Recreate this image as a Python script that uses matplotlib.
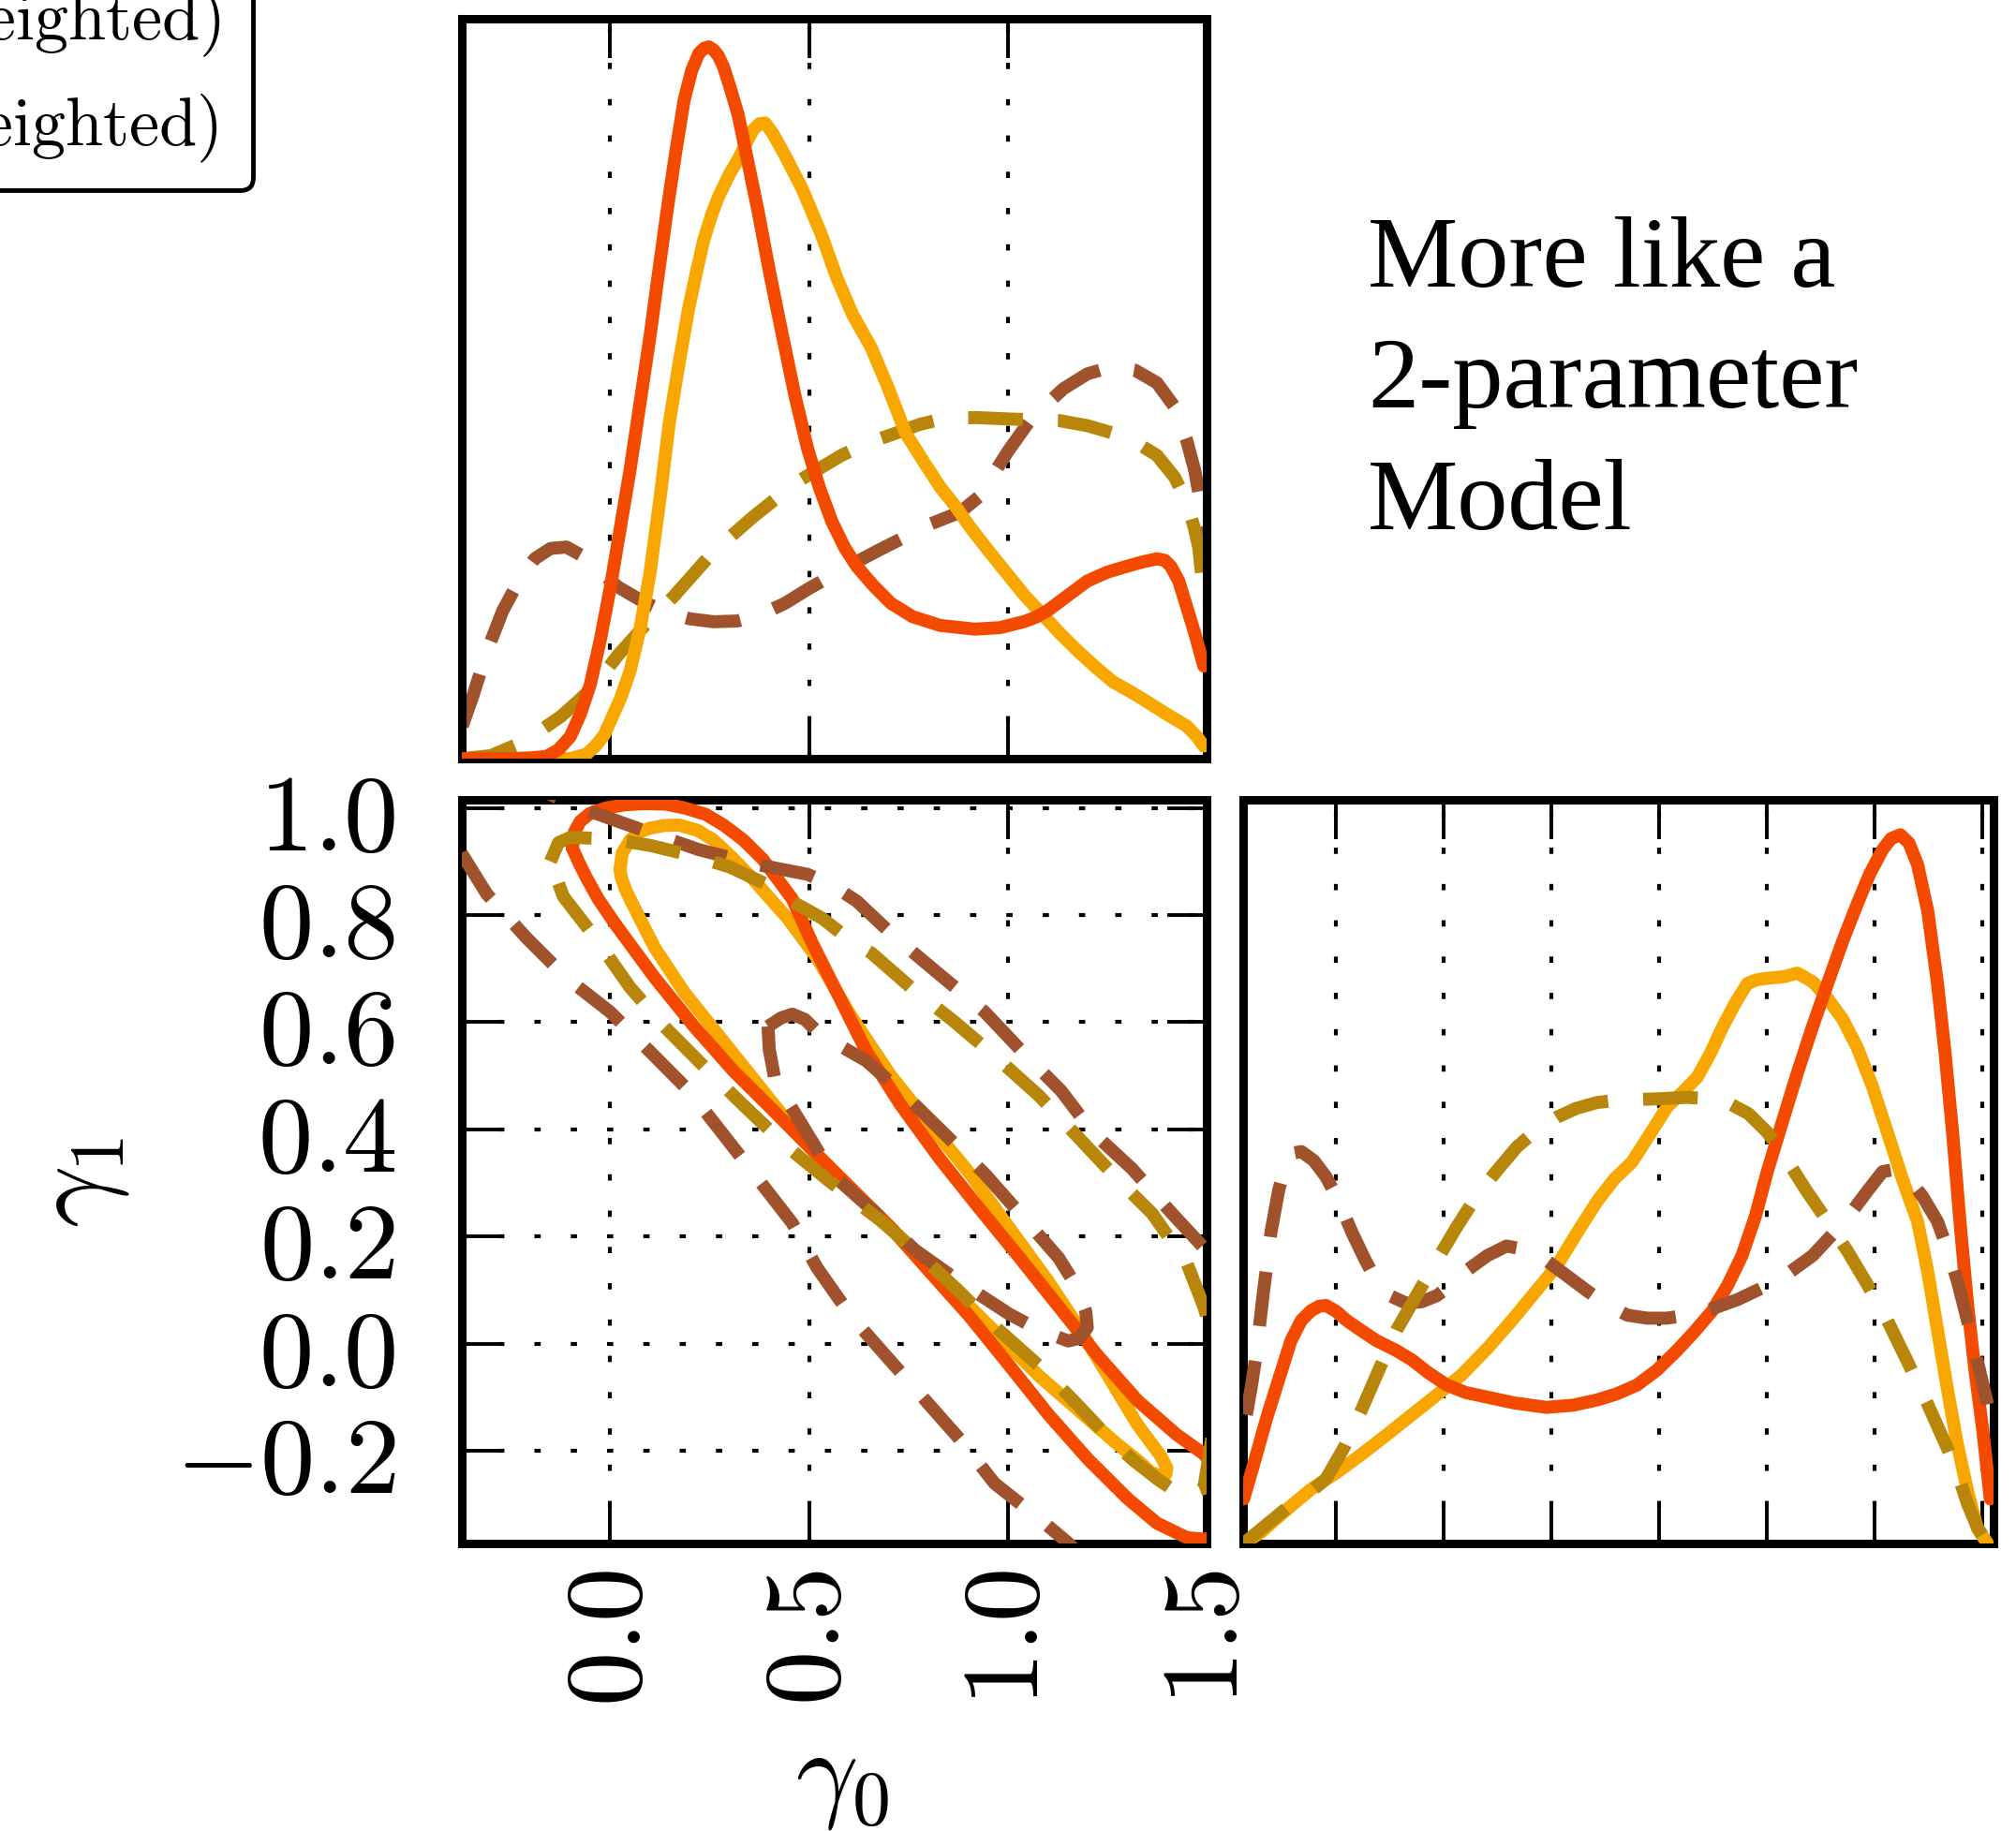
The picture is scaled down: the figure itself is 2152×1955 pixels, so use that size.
import matplotlib
matplotlib.use('Agg')
import matplotlib.pyplot as plt
from matplotlib.lines import Line2D
from matplotlib.ticker import FixedLocator, FixedFormatter, NullLocator

plt.rcParams['mathtext.fontset'] = 'cm'

# ---------------- data ----------------
# gamma_0 marginal (top panel)
g0_red = [-0.372, -0.25, -0.2, -0.16, -0.13, -0.1, -0.075, -0.05, -0.025, 0.0, 0.025, 0.05, 0.075, 0.1, 0.12,
          0.143, 0.165, 0.186, 0.205, 0.223, 0.236, 0.248, 0.26, 0.272, 0.285, 0.3, 0.322, 0.345, 0.372, 0.4,
          0.434, 0.465, 0.496, 0.527, 0.558, 0.59, 0.62, 0.66, 0.706, 0.76, 0.83, 0.917, 0.98, 1.04, 1.07, 1.10,
          1.15, 1.2, 1.25, 1.3, 1.34, 1.375, 1.395, 1.41, 1.43, 1.45, 1.47, 1.493]
d0_red = [0.0, 0.0, 0.001, 0.003, 0.012, 0.03, 0.06, 0.1, 0.16, 0.23, 0.31, 0.39, 0.48, 0.57, 0.65,
          0.74, 0.82, 0.89, 0.93, 0.953, 0.96, 0.962, 0.958, 0.95, 0.935, 0.91, 0.87, 0.81, 0.74, 0.66,
          0.57, 0.49, 0.42, 0.365, 0.32, 0.285, 0.26, 0.235, 0.21, 0.192, 0.18, 0.175, 0.177, 0.185, 0.191, 0.2,
          0.22, 0.24, 0.252, 0.26, 0.266, 0.27, 0.268, 0.26, 0.24, 0.205, 0.17, 0.125]
g0_orange = [-0.372, -0.1, -0.06, -0.037, -0.015, 0.0, 0.025, 0.05, 0.075, 0.1, 0.125, 0.149, 0.175, 0.198,
             0.218, 0.235, 0.255, 0.273, 0.3, 0.322, 0.345, 0.36, 0.375, 0.39, 0.409, 0.44, 0.483, 0.53, 0.57,
             0.61, 0.657, 0.7, 0.743, 0.79, 0.83, 0.87, 0.905, 0.95, 1.004, 1.04, 1.078, 1.13, 1.177, 1.22,
             1.264, 1.31, 1.35, 1.4, 1.45, 1.475, 1.493]
d0_orange = [0.0, 0.0, 0.006, 0.017, 0.032, 0.05, 0.08, 0.118, 0.175, 0.25, 0.35, 0.455, 0.54, 0.61,
             0.66, 0.70, 0.735, 0.76, 0.79, 0.81, 0.835, 0.85, 0.858, 0.859, 0.845, 0.815, 0.77, 0.71, 0.65,
             0.6, 0.555, 0.5, 0.44, 0.4, 0.367, 0.34, 0.313, 0.282, 0.246, 0.222, 0.2, 0.17, 0.145, 0.124,
             0.104, 0.09, 0.077, 0.06, 0.044, 0.03, 0.017]
g0_brown = [-0.372, -0.345, -0.31, -0.27, -0.23, -0.19, -0.15, -0.11, -0.07, -0.03, 0.02, 0.08, 0.14, 0.2,
            0.26, 0.32, 0.38, 0.44, 0.5, 0.56, 0.62, 0.68, 0.743, 0.8, 0.88, 0.93, 0.967, 1.0, 1.053, 1.1, 1.14,
            1.2, 1.264, 1.32, 1.375, 1.42, 1.45, 1.47, 1.48, 1.493]
d0_brown = [0.044, 0.085, 0.145, 0.2, 0.24, 0.27, 0.284, 0.286, 0.274, 0.255, 0.232, 0.213, 0.198, 0.189,
            0.185, 0.186, 0.195, 0.21, 0.23, 0.248, 0.266, 0.283, 0.3, 0.316, 0.333, 0.355, 0.387, 0.415, 0.455, 0.48, 0.5,
            0.52, 0.53, 0.525, 0.508, 0.475, 0.43, 0.39, 0.36, 0.28]
g0_gold = [-0.372, -0.3, -0.23, -0.17, -0.124, -0.08, -0.037, 0.02, 0.087, 0.161, 0.26, 0.36, 0.47, 0.582,
           0.65, 0.719, 0.78, 0.843, 0.92, 1.004, 1.07, 1.128, 1.2, 1.264, 1.32, 1.375, 1.42, 1.45, 1.47, 1.48, 1.493]
d0_gold = [0.0, 0.004, 0.02, 0.04, 0.057, 0.078, 0.1, 0.14, 0.18, 0.22, 0.28, 0.327, 0.374, 0.41,
           0.427, 0.44, 0.452, 0.46, 0.461, 0.459, 0.458, 0.457, 0.45, 0.44, 0.428, 0.41, 0.38, 0.347, 0.31, 0.286, 0.22]

# gamma_1 marginal (right panel)
g1_red = [-0.372, -0.35, -0.33, -0.305, -0.284, -0.265, -0.247, -0.232, -0.219, -0.2, -0.181, -0.155, -0.126,
          -0.09, -0.06, -0.03, 0.005, 0.04, 0.079, 0.13, 0.19, 0.24, 0.284, 0.32, 0.358, 0.395, 0.433, 0.465,
          0.498, 0.527, 0.553, 0.578, 0.6, 0.628, 0.656, 0.684, 0.712, 0.74, 0.767, 0.79, 0.814, 0.83, 0.847,
          0.863, 0.879, 0.898, 0.916, 0.93, 0.944, 0.958, 0.972, 0.986, 1.0, 1.014]
d1_red = [0.06, 0.115, 0.167, 0.225, 0.273, 0.3, 0.313, 0.319, 0.32, 0.312, 0.3, 0.287, 0.273,
          0.26, 0.247, 0.23, 0.213, 0.203, 0.197, 0.189, 0.183, 0.186, 0.193, 0.201, 0.213, 0.233, 0.26, 0.285,
          0.313, 0.348, 0.387, 0.44, 0.5, 0.567, 0.633, 0.695, 0.753, 0.81, 0.86, 0.9, 0.933, 0.948, 0.953,
          0.942, 0.913, 0.85, 0.753, 0.66, 0.553, 0.43, 0.32, 0.23, 0.153, 0.06]
g1_orange = [-0.372, -0.34, -0.312, -0.28, -0.247, -0.2, -0.153, -0.105, -0.06, -0.013, 0.033, 0.08, 0.126,
             0.168, 0.209, 0.247, 0.284, 0.316, 0.349, 0.38, 0.414, 0.443, 0.47, 0.495, 0.516, 0.54, 0.563, 0.58,
             0.6, 0.63, 0.656, 0.685, 0.712, 0.74, 0.767, 0.795, 0.823, 0.851, 0.879, 0.898, 0.916, 0.935, 0.953,
             0.972, 0.99, 1.009]
d1_orange = [0.0, 0.015, 0.033, 0.053, 0.073, 0.095, 0.12, 0.147, 0.173, 0.2, 0.227, 0.262, 0.3,
             0.337, 0.373, 0.418, 0.46, 0.49, 0.513, 0.548, 0.587, 0.607, 0.627, 0.66, 0.693, 0.726, 0.753, 0.758,
             0.76, 0.762, 0.767, 0.755, 0.733, 0.705, 0.667, 0.615, 0.553, 0.49, 0.433, 0.365, 0.287, 0.205, 0.133,
             0.07, 0.02, 0.0]
g1_gold = [-0.372, -0.33, -0.293, -0.255, -0.219, -0.185, -0.153, -0.12, -0.088, -0.05, -0.014, 0.023, 0.06,
           0.1, 0.135, 0.17, 0.209, 0.245, 0.284, 0.32, 0.358, 0.4, 0.451, 0.49, 0.526, 0.565, 0.6, 0.637, 0.674,
           0.712, 0.749, 0.786, 0.823, 0.86, 0.898, 0.935, 0.955, 0.972, 0.99, 1.009]
d1_gold = [0.0, 0.025, 0.047, 0.065, 0.087, 0.13, 0.18, 0.235, 0.287, 0.335, 0.38, 0.425, 0.467,
           0.503, 0.533, 0.555, 0.573, 0.585, 0.593, 0.596, 0.597, 0.598, 0.6, 0.598, 0.593, 0.578, 0.553, 0.515, 0.473,
           0.433, 0.393, 0.348, 0.3, 0.245, 0.187, 0.127, 0.09, 0.053, 0.022, 0.0]
g1_brown = [-0.367, -0.358, -0.349, -0.335, -0.321, -0.307, -0.293, -0.28, -0.265, -0.242, -0.219, -0.195,
            -0.172, -0.149, -0.126, -0.1, -0.07, -0.042, -0.014, 0.014, 0.042, 0.08, 0.116, 0.153, 0.191, 0.228,
            0.265, 0.3, 0.34, 0.377, 0.414, 0.45, 0.488, 0.545, 0.6, 0.642, 0.684, 0.72, 0.758, 0.787, 0.814,
            0.837, 0.86, 0.888, 0.916, 0.935, 0.953, 0.967, 0.981, 0.995, 1.009]
d1_brown = [0.173, 0.21, 0.253, 0.34, 0.42, 0.475, 0.513, 0.525, 0.527, 0.515, 0.493, 0.46,
            0.42, 0.385, 0.353, 0.333, 0.323, 0.325, 0.333, 0.348, 0.367, 0.387, 0.4, 0.395, 0.38, 0.36,
            0.34, 0.322, 0.307, 0.303, 0.303, 0.307, 0.313, 0.328, 0.347, 0.365, 0.387, 0.415, 0.447, 0.475, 0.5,
            0.503, 0.493, 0.467, 0.433, 0.395, 0.353, 0.313, 0.273, 0.23, 0.187]

# joint contours (gamma_0, gamma_1)
c_red_g0 = [-0.095, -0.09, -0.075, -0.05, -0.01, 0.04, 0.087, 0.14, 0.186, 0.24, 0.285, 0.335, 0.384, 0.458,
            0.508, 0.57, 0.644, 0.731, 0.83, 0.929, 1.029, 1.128, 1.227, 1.326, 1.425, 1.493, 1.53, 1.53, 1.493,
            1.45, 1.375, 1.301, 1.202, 1.103, 1.004, 0.905, 0.805, 0.706, 0.607, 0.508, 0.409, 0.31, 0.211,
            0.112, 0.012, -0.03, -0.06, -0.08, -0.095]
c_red_g1 = [0.925, 0.955, 0.975, 0.99, 1.0, 1.006, 1.008, 1.007, 1.0, 0.988, 0.968, 0.94, 0.904, 0.83,
            0.748, 0.656, 0.546, 0.445, 0.344, 0.252, 0.161, 0.069, -0.023, -0.106, -0.17, -0.206, -0.24, -0.36, -0.365,
            -0.362, -0.335, -0.289, -0.216, -0.133, -0.041, 0.05, 0.133, 0.216, 0.289, 0.362, 0.436, 0.509, 0.592,
            0.683, 0.784, 0.83, 0.87, 0.9, 0.925]
c_orange_g0 = [0.025, 0.03, 0.05, 0.075, 0.099, 0.135, 0.173, 0.22, 0.26, 0.31, 0.359, 0.446, 0.52, 0.607,
               0.706, 0.805, 0.905, 1.004, 1.103, 1.177, 1.252, 1.326, 1.36, 1.385, 1.4, 1.398, 1.385, 1.36, 1.33,
               1.276, 1.177, 1.078, 0.979, 0.88, 0.781, 0.682, 0.582, 0.483, 0.384, 0.285, 0.186, 0.112, 0.062,
               0.04, 0.028, 0.025]
c_orange_g1 = [0.885, 0.915, 0.94, 0.955, 0.962, 0.967, 0.968, 0.958, 0.94, 0.905, 0.867, 0.794, 0.72, 0.61,
               0.5, 0.408, 0.317, 0.216, 0.115, 0.032, -0.06, -0.151, -0.185, -0.21, -0.232, -0.243, -0.247, -0.24, -0.22,
               -0.188, -0.124, -0.06, 0.014, 0.087, 0.161, 0.234, 0.307, 0.381, 0.472, 0.564, 0.656, 0.739, 0.812,
               0.845, 0.87, 0.885]
c_gold_g0 = [-0.15, -0.13, -0.1, 0.0, 0.1, 0.2, 0.3, 0.4, 0.47, 0.533, 0.6, 0.657, 0.756, 0.867, 0.967, 1.078,
             1.171, 1.276, 1.363, 1.45, 1.493, 1.52, 1.53, 1.51, 1.493, 1.44, 1.375, 1.313, 1.24, 1.165, 1.078,
             0.954, 0.88, 0.78, 0.68, 0.6, 0.545, 0.446, 0.335, 0.235, 0.136, 0.05, -0.037, -0.118, -0.15]
c_gold_g1 = [0.9, 0.935, 0.945, 0.942, 0.93, 0.912, 0.89, 0.855, 0.82, 0.794, 0.755, 0.729, 0.665, 0.6, 0.537, 0.463,
             0.39, 0.307, 0.243, 0.151, 0.069, 0.0, -0.1, -0.19, -0.27, -0.285, -0.252, -0.216, -0.165, -0.106, -0.041,
             0.041, 0.096, 0.165, 0.23, 0.275, 0.307, 0.367, 0.445, 0.518, 0.592, 0.665, 0.757, 0.835, 0.9]
c_brown_in_g0 = [0.397, 0.43, 0.458, 0.49, 0.52, 0.58, 0.644, 0.743, 0.843, 0.942, 1.041, 1.128, 1.17, 1.196,
                 1.2, 1.18, 1.152, 1.08, 1.004, 0.88, 0.768, 0.669, 0.558, 0.483, 0.415, 0.4, 0.397]
c_brown_in_g1 = [0.592, 0.608, 0.615, 0.605, 0.583, 0.555, 0.528, 0.463, 0.39, 0.317, 0.234, 0.16, 0.11, 0.06,
                 0.03, 0.01, 0.005, 0.025, 0.055, 0.115, 0.174, 0.243, 0.316, 0.408, 0.49, 0.55, 0.592]
c_brown_out_g0 = [1.2, 1.152, 1.078, 0.967, 0.88, 0.793, 0.694, 0.607, 0.52, 0.458, 0.372, 0.285, 0.198, 0.099,
                  0.0, -0.11, -0.21, -0.31, -0.372, -0.41, -0.38, -0.25, -0.15, -0.11, -0.037, 0.099, 0.223, 0.372,
                  0.496, 0.56, 0.62, 0.719, 0.83, 0.942, 1.035, 1.134, 1.214, 1.313, 1.413, 1.493, 1.55]
c_brown_out_g1 = [-0.41, -0.372, -0.326, -0.261, -0.179, -0.106, -0.023, 0.05, 0.142, 0.225, 0.307, 0.39, 0.472, 0.546,
                  0.619, 0.683, 0.757, 0.839, 0.913, 0.98, 1.05, 1.06, 1.025, 1.01, 0.99, 0.954, 0.922, 0.894,
                  0.876, 0.855, 0.826, 0.757, 0.688, 0.619, 0.546, 0.472, 0.394, 0.326, 0.243, 0.179, 0.12]

g0_ticks = [0.0, 0.5, 1.0, 1.5]
g0_ticklabels = ['$0.0$', '$0.5$', '$1.0$', '$1.5$']
g1_ticks = [-0.2, 0.0, 0.2, 0.4, 0.6, 0.8, 1.0]
g1_ticklabels = ['$-0.2$', '$0.0$', '$0.2$', '$0.4$', '$0.6$', '$0.8$', '$1.0$']
legend_labels = ['Model A (weighted)', 'Model B (weighted)', 'Model A (unweighted)', 'Model B (unweighted)']
annotation = 'More like a\n2-parameter\nModel'

# ---------------- styles ----------------
RED = '#F44A00'
ORANGE = '#F8A600'
BROWN = '#A0522D'
GOLD = '#B8860B'
LW = 10
DASH = (0, (4.2, 2.7))
GRID = dict(color='k', linestyle=(0, (1.6, 7.7)), linewidth=3.0)
G0LIM = (-0.373, 1.5)
G1LIM = (-0.373, 1.015)

W, H = 2152, 1955
fig = plt.figure(figsize=(W / 100, H / 100), dpi=100)
fig.patch.set_facecolor('white')


def rect(l, t, r, b):
    return [l / W, 1 - b / H, (r - l) / W, (b - t) / H]


ax_top = fig.add_axes(rect(493, 20, 1288, 810))
ax_joint = fig.add_axes(rect(493, 854, 1288, 1648))
ax_right = fig.add_axes(rect(1327, 854, 2128, 1648))

for ax in (ax_top, ax_joint, ax_right):
    for sp in ax.spines.values():
        sp.set_linewidth(6.5)
        sp.set_color('k')
    ax.tick_params(direction='in', length=30, width=2.8, colors='k',
                   top=True, bottom=True, left=True, right=True)

SOLID = dict(lw=LW, solid_joinstyle='round', solid_capstyle='round')
DASHED = dict(lw=LW, linestyle=DASH, dash_joinstyle='round')

# top panel
ax_top.plot(g0_brown, d0_brown, color=BROWN, zorder=2, **DASHED)
ax_top.plot(g0_gold, d0_gold, color=GOLD, zorder=2, **DASHED)
ax_top.plot(g0_orange, d0_orange, color=ORANGE, zorder=3, **SOLID)
ax_top.plot(g0_red, d0_red, color=RED, zorder=4, **SOLID)
ax_top.set_xlim(*G0LIM)
ax_top.set_ylim(0, 1.0)
ax_top.xaxis.set_major_locator(FixedLocator(g0_ticks))
ax_top.xaxis.set_major_formatter(FixedFormatter(['', '', '', '']))
ax_top.yaxis.set_major_locator(NullLocator())
ax_top.grid(True, axis='x', **GRID)

# joint panel
ax_joint.plot(c_red_g0, c_red_g1, color=RED, zorder=4, **SOLID)
ax_joint.plot(c_orange_g0, c_orange_g1, color=ORANGE, zorder=3, **SOLID)
ax_joint.plot(c_brown_out_g0, c_brown_out_g1, color=BROWN, zorder=5, **DASHED)
ax_joint.plot(c_brown_in_g0, c_brown_in_g1, color=BROWN, zorder=5, **DASHED)
ax_joint.plot(c_gold_g0, c_gold_g1, color=GOLD, zorder=5, **DASHED)
ax_joint.set_xlim(*G0LIM)
ax_joint.set_ylim(*G1LIM)
ax_joint.xaxis.set_major_locator(FixedLocator(g0_ticks))
ax_joint.xaxis.set_major_formatter(FixedFormatter(g0_ticklabels))
ax_joint.yaxis.set_major_locator(FixedLocator(g1_ticks))
ax_joint.yaxis.set_major_formatter(FixedFormatter(g1_ticklabels))
ax_joint.tick_params(axis='x', labelsize=84, pad=20, labelrotation=90)
ax_joint.tick_params(axis='y', labelsize=84, pad=51)
ax_joint.grid(True, **GRID)

# right panel
ax_right.plot(g1_red, d1_red, color=RED, zorder=4, **SOLID)
ax_right.plot(g1_orange, d1_orange, color=ORANGE, zorder=3, **SOLID)
ax_right.plot(g1_brown, d1_brown, color=BROWN, zorder=5, **DASHED)
ax_right.plot(g1_gold, d1_gold, color=GOLD, zorder=5, **DASHED)
ax_right.set_xlim(-0.373, 1.02)
ax_right.set_ylim(0, 1.0)
ax_right.xaxis.set_major_locator(FixedLocator(g1_ticks))
ax_right.xaxis.set_major_formatter(FixedFormatter([''] * len(g1_ticks)))
ax_right.yaxis.set_major_locator(NullLocator())
ax_right.grid(True, axis='x', **GRID)

# axis labels
fig.text(899 / W, 1 - 1898 / H, r'$\gamma_0$', fontsize=84, ha='center', va='center')
fig.text(82 / W, 1 - 1263 / H, r'$\gamma_1$', fontsize=84, ha='center', va='center', rotation=90)

# annotation
fig.text(1460 / W, 1 - 231 / H, annotation, family='Liberation Serif', fontsize=78,
         ha='left', va='top', linespacing=1.42)

# legend (partially outside the figure, as in the reference)
handles = [Line2D([], [], color=BROWN, lw=LW, linestyle=DASH),
           Line2D([], [], color=GOLD, lw=LW, linestyle=DASH),
           Line2D([], [], color=RED, lw=LW),
           Line2D([], [], color=ORANGE, lw=LW)]
leg = fig.legend(handles, legend_labels, loc='lower right',
                 bbox_to_anchor=(270 / W, 1 - 203 / H), bbox_transform=fig.transFigure,
                 borderaxespad=0.0,
                 prop=dict(family='cmr10', size=52), fancybox=True, framealpha=1,
                 edgecolor='k', borderpad=0.4, labelspacing=0.54, handlelength=2.5)
leg.get_frame().set_linewidth(3.5)

fig.savefig('out.png', dpi=100)
